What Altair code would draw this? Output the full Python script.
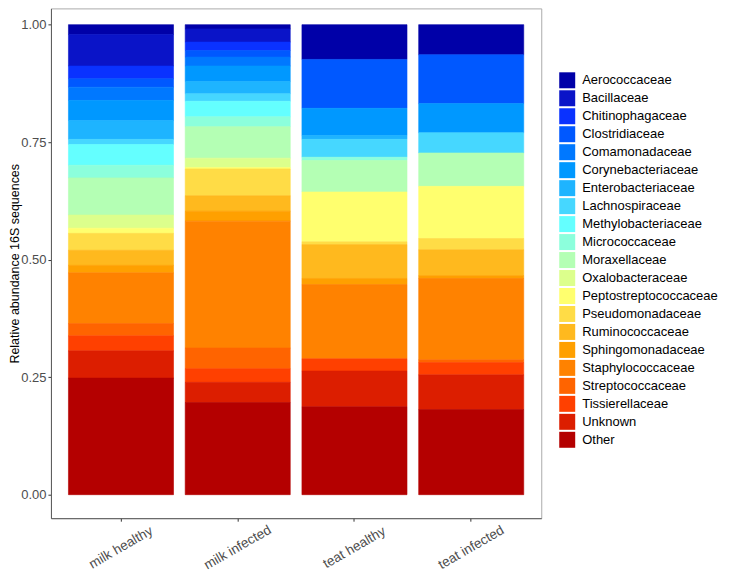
import altair as alt
import pandas as pd

families = ["Aerococcaceae", "Bacillaceae", "Chitinophagaceae", "Clostridiaceae",
            "Comamonadaceae", "Corynebacteriaceae", "Enterobacteriaceae",
            "Lachnospiraceae", "Methylobacteriaceae", "Micrococcaceae",
            "Moraxellaceae", "Oxalobacteraceae", "Peptostreptococcaceae",
            "Pseudomonadaceae", "Ruminococcaceae", "Sphingomonadaceae",
            "Staphylococcaceae", "Streptococcaceae", "Tissierellaceae",
            "Unknown", "Other"]

colors = ["#0000A8", "#0A14C8", "#0A32FF", "#0058FF", "#0078FF", "#0098FF",
          "#1EB4FF", "#46D7FF", "#64FFFF", "#8CFFDC", "#B4FFB4", "#DCFF8C",
          "#FFFF6E", "#FFDC46", "#FFB91E", "#FFA000", "#FF8200", "#FF6400",
          "#FF4000", "#DC1E00", "#B40000"]

samples = ["milk healthy", "milk infected", "teat healthy", "teat infected"]

milk_healthy = [0.021, 0.067, 0.027, 0.018, 0.028, 0.043, 0.040, 0.011, 0.044, 0.027,
                0.079, 0.028, 0.011, 0.036, 0.032, 0.016, 0.108, 0.026, 0.032, 0.058, 0.248]
milk_infected = [0.009, 0.028, 0.018, 0.014, 0.019, 0.033, 0.026, 0.016, 0.033, 0.021,
                 0.067, 0.020, 0.003, 0.057, 0.033, 0.021, 0.270, 0.044, 0.029, 0.043, 0.196]
teat_healthy = [0.074, 0.000, 0.000, 0.104, 0.000, 0.058, 0.008, 0.038, 0.000, 0.007,
                0.067, 0.000, 0.106, 0.006, 0.072, 0.013, 0.158, 0.000, 0.026, 0.076, 0.187]
teat_infected = [0.064, 0.000, 0.000, 0.104, 0.000, 0.062, 0.000, 0.043, 0.000, 0.000,
                 0.071, 0.000, 0.111, 0.024, 0.055, 0.006, 0.173, 0.006, 0.026, 0.074, 0.181]

y_ticks = [0, 0.25, 0.5, 0.75, 1.0]

rows = []
for s, vals in zip(samples, [milk_healthy, milk_infected, teat_healthy, teat_infected]):
    for i, (f, v) in enumerate(zip(families, vals)):
        if v > 0:
            rows.append({"sample": s, "family": f, "abundance": v,
                         "rank": len(families) - 1 - i})
df = pd.DataFrame(rows)

color_scale = alt.Scale(domain=families, range=colors)

chart = alt.Chart(df).mark_bar(strokeWidth=0.6).encode(
    x=alt.X("sample:N", sort=samples,
            scale=alt.Scale(paddingInner=0.1, paddingOuter=0.15),
            axis=alt.Axis(title=None, labelAngle=330, labelAlign="center",
                          labelBaseline="middle", labelPadding=26,
                          labelFontSize=13.5, labelColor="#4D4D4D",
                          tickSize=3, tickColor="#333333",
                          domainColor="#5A5A5A", labelOverlap=False,
                          labelFlush=False)),
    y=alt.Y("abundance:Q", stack="zero",
            scale=alt.Scale(domain=[-0.05, 1.0346], nice=False, zero=False),
            axis=alt.Axis(values=y_ticks, format=".2f", grid=False,
                          title="Relative abundance 16S sequences",
                          titleFontSize=12.5, titleColor="black",
                          titleFontWeight="normal", titleX=-29.5,
                          titleBaseline="bottom",
                          labelFontSize=13, labelColor="#4D4D4D",
                          labelPadding=2, tickSize=3, tickColor="#333333",
                          domainColor="#5A5A5A")),
    color=alt.Color("family:N", scale=color_scale,
                    legend=alt.Legend(title=None, orient="none",
                                      legendX=509, legendY=64,
                                      symbolType="square", symbolSize=256,
                                      symbolStrokeWidth=0, symbolOpacity=1,
                                      rowPadding=2, labelOffset=7,
                                      labelFontSize=13, labelColor="black",
                                      labelLimit=250, padding=0)),
    stroke=alt.Stroke("family:N", scale=color_scale, legend=None),
    order=alt.Order("rank:Q", sort="ascending"),
).properties(
    width=491,
    height=510.5,
    autosize=alt.AutoSizeParams(type="none"),
    padding={"left": 43, "top": 0, "right": 185, "bottom": 55},
).configure(
    font="Liberation Sans",
).configure_view(
    stroke="#ABABAB",
    strokeWidth=1,
)

chart.save("out.html", embed_options={"renderer": "svg", "actions": False})
